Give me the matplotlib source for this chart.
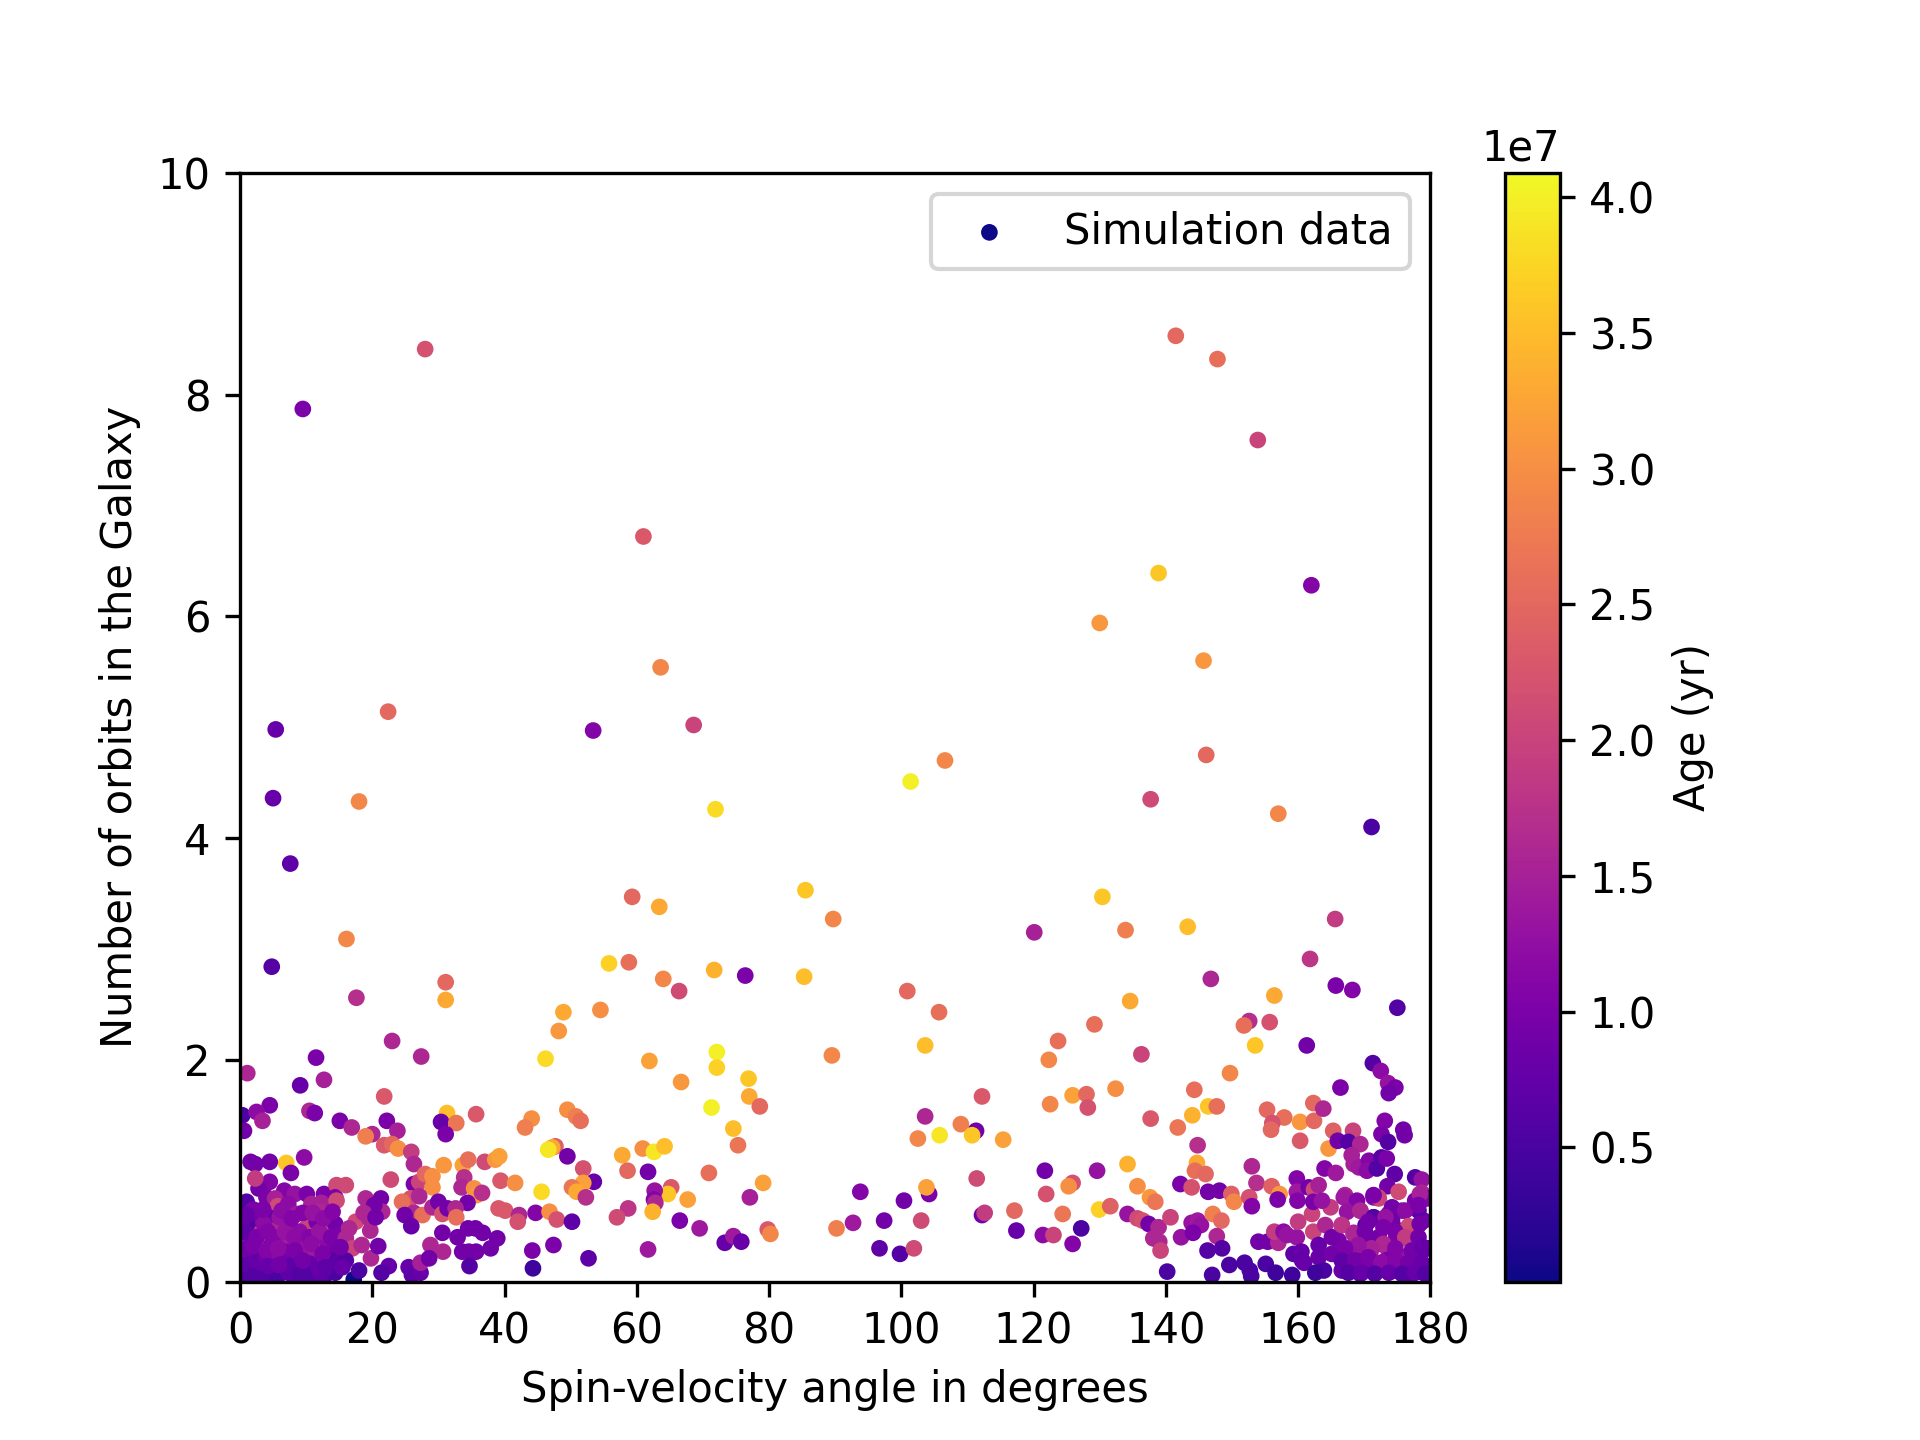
import numpy as np
import matplotlib
matplotlib.use("Agg")
import matplotlib.pyplot as plt

# (spin-velocity angle [deg], number of orbits, age [1e7 yr])
# sparse upper points
upper = [
    (9.5, 7.87, 1.0), (28.0, 8.41, 2.2), (5.4, 4.98, 0.8), (5.0, 4.36, 0.8),
    (7.6, 3.77, 0.7), (4.8, 2.84, 0.6), (22.4, 5.14, 2.5), (18.0, 4.33, 2.9),
    (16.1, 3.09, 2.9), (17.6, 2.56, 1.7), (31.1, 2.70, 2.5), (31.1, 2.54, 3.3),
    (61.0, 6.72, 2.3), (63.6, 5.54, 2.9), (53.4, 4.97, 1.1), (68.6, 5.02, 2.0),
    (71.9, 4.26, 3.8), (59.3, 3.47, 2.5), (63.4, 3.38, 3.3), (55.8, 2.87, 3.7),
    (58.8, 2.88, 2.6), (64.0, 2.73, 2.9), (66.4, 2.62, 2.1), (71.7, 2.81, 3.4),
    (76.4, 2.76, 1.0), (54.5, 2.45, 3.0), (48.9, 2.43, 3.3), (48.2, 2.26, 3.1),
    (85.5, 3.53, 3.6), (89.7, 3.27, 2.9), (85.3, 2.75, 3.5), (101.4, 4.51, 4.0),
    (106.6, 4.70, 2.9), (100.9, 2.62, 2.5), (105.7, 2.43, 2.6), (141.5, 8.53, 2.5),
    (147.8, 8.32, 2.6), (153.9, 7.59, 2.0), (162.0, 6.28, 1.1), (138.9, 6.39, 3.6),
    (130.0, 5.94, 3.1), (145.7, 5.60, 3.1), (146.1, 4.75, 2.5), (137.7, 4.35, 2.1),
    (157.0, 4.22, 2.9), (171.1, 4.10, 0.5), (120.1, 3.15, 1.5), (130.4, 3.47, 3.6),
    (133.9, 3.17, 2.8), (143.3, 3.20, 3.5), (165.6, 3.27, 1.9), (161.8, 2.91, 1.8),
    (165.7, 2.67, 1.0), (168.2, 2.63, 1.1), (175.0, 2.47, 0.6), (146.8, 2.73, 1.6),
    (156.4, 2.58, 3.3), (134.6, 2.53, 3.3), (129.2, 2.32, 2.6), (152.6, 2.35, 1.7),
    (151.8, 2.31, 2.6), (155.7, 2.34, 2.2),
]

# 0-45 degrees, below ~2.2 orbits
band_left = [
    (23.0, 2.17, 1.6), (11.5, 2.02, 1.0), (27.4, 2.03, 1.6), (1.1, 1.88, 1.6),
    (12.7, 1.82, 1.5), (9.1, 1.77, 0.8), (21.8, 1.67, 2.3), (0.35, 1.50, 0.5),
    (4.5, 1.59, 1.0), (2.5, 1.53, 1.2), (3.4, 1.45, 1.5), (10.5, 1.54, 1.6),
    (11.3, 1.52, 1.0), (31.3, 1.52, 3.5), (35.7, 1.51, 2.3), (30.4, 1.44, 0.8),
    (32.7, 1.43, 2.7), (31.1, 1.33, 1.0), (15.1, 1.45, 1.0), (16.9, 1.39, 1.6),
    (22.2, 1.45, 1.0), (23.8, 1.36, 1.5), (20.0, 1.33, 1.6), (19.0, 1.31, 2.8),
    (0.6, 1.36, 0.9), (21.8, 1.23, 2.3), (23.0, 1.24, 2.5), (23.9, 1.20, 3.0),
    (25.9, 1.17, 1.9), (26.3, 1.06, 1.6), (1.6, 1.08, 0.9), (2.3, 1.06, 0.9),
    (4.5, 1.08, 0.9), (7.0, 1.07, 3.6), (9.7, 1.12, 1.2), (7.7, 0.98, 1.0),
    (2.3, 0.93, 1.9), (16.0, 0.87, 2.1), (22.8, 0.92, 2.1), (26.3, 0.88, 1.0),
    (27.1, 0.90, 2.0), (28.0, 0.97, 2.5), (29.1, 0.95, 3.0), (29.1, 0.85, 3.0),
    (30.8, 1.05, 3.1), (33.7, 1.05, 3.2), (34.5, 1.10, 2.6), (37.0, 1.08, 2.1),
    (38.6, 1.10, 3.1), (39.2, 1.13, 3.2), (33.9, 0.94, 1.7), (33.5, 0.85, 1.6),
    (35.4, 0.84, 3.0), (35.8, 0.78, 3.1), (36.6, 0.80, 1.7), (39.4, 0.91, 2.3),
    (41.6, 0.89, 3.0), (34.4, 0.71, 0.9), (25.0, 0.70, 3.1), (25.8, 0.75, 2.2),
    (27.1, 0.77, 1.6), (24.5, 0.72, 2.6), (26.3, 0.62, 1.6), (27.6, 0.60, 2.6),
    (24.9, 0.60, 0.9), (25.9, 0.50, 0.8), (29.1, 0.67, 1.6), (30.0, 0.72, 0.9),
    (30.6, 0.61, 2.2), (31.4, 0.66, 0.9), (32.6, 0.66, 1.6), (32.7, 0.58, 2.6),
    (39.1, 0.66, 2.3), (40.1, 0.64, 2.3), (42.2, 0.60, 1.6), (42.0, 0.54, 2.2),
    (30.6, 0.44, 0.9), (32.9, 0.40, 0.9), (34.5, 0.48, 0.9), (35.6, 0.48, 0.9),
    (36.7, 0.44, 0.9), (38.9, 0.39, 0.9), (28.8, 0.33, 1.6), (30.7, 0.27, 1.6),
    (33.6, 0.27, 0.9), (34.6, 0.27, 0.9), (35.7, 0.27, 0.9), (37.9, 0.30, 0.9),
    (34.7, 0.14, 0.6), (19.0, 0.75, 1.6), (21.3, 0.75, 0.9), (21.5, 0.63, 1.6),
    (20.3, 0.69, 0.9), (17.5, 0.54, 2.1), (18.7, 0.62, 1.6), (19.5, 0.57, 1.6),
    (19.7, 0.46, 1.6), (16.5, 0.48, 1.6), (16.0, 0.39, 1.6), (17.0, 0.30, 2.0),
    (18.4, 0.33, 1.6), (19.8, 0.21, 1.6), (20.9, 0.32, 0.9), (22.5, 0.14, 0.8),
    (21.4, 0.08, 0.6), (18.0, 0.10, 0.5), (25.5, 0.13, 0.8),
    (26.0, 0.06, 0.7), (27.3, 0.08, 0.8), (27.3, 0.17, 1.5), (28.6, 0.21, 0.9),
    (20.5, 0.58, 0.9), (16.0, 0.19, 0.6), (15.2, 0.31, 0.9), (15.5, 0.13, 0.8),
]

# dense cluster near 0 degrees (first entry: youngest object in the sample)
cluster_left = [
    (17.2, 0.02, 0.02),
    (4.5, 0.90, 1.1), (6.7, 0.82, 1.1), (8.3, 0.79, 1.3), (10.1, 0.79, 1.0),
    (12.7, 0.79, 1.0), (14.6, 0.87, 2.1), (14.4, 0.76, 1.0), (1.0, 0.72, 0.6),
    (2.8, 0.84, 0.9), (4.0, 0.76, 1.0), (5.3, 0.75, 1.5), (5.7, 0.68, 2.1),
    (7.3, 0.70, 1.2), (8.6, 0.61, 1.4), (10.8, 0.70, 1.5), (12.3, 0.71, 1.5),
    (12.1, 0.63, 1.6), (14.6, 0.73, 2.1), (2.5, 0.61, 0.9), (4.3, 0.58, 0.8),
    (1.5, 0.48, 0.6), (3.3, 0.45, 1.9), (5.8, 0.48, 1.6), (7.3, 0.52, 1.0),
    (10.1, 0.49, 2.0), (11.6, 0.54, 0.9), (13.2, 0.49, 2.1), (14.4, 0.52, 0.9),
    (15.4, 0.43, 1.0), (0.3, 0.37, 1.3), (3.0, 0.30, 1.9), (4.8, 0.34, 1.0),
    (6.5, 0.37, 1.4), (7.6, 0.31, 1.5), (9.3, 0.34, 1.3), (11.7, 0.36, 2.1),
    (13.3, 0.31, 1.1), (14.6, 0.28, 0.9), (0.8, 0.20, 0.8), (2.3, 0.23, 0.7),
    (3.8, 0.19, 0.9), (5.3, 0.22, 1.2), (6.8, 0.27, 1.0), (8.8, 0.22, 1.1),
    (10.1, 0.28, 1.3), (11.3, 0.25, 1.4), (12.2, 0.17, 2.0), (13.9, 0.19, 0.6),
    (1.3, 0.10, 0.5), (3.0, 0.10, 0.8), (4.8, 0.07, 0.6), (6.5, 0.10, 0.9),
    (8.3, 0.05, 0.6), (9.8, 0.11, 0.9), (11.3, 0.07, 0.6), (13.1, 0.07, 0.5),
    (0.5, 0.04, 0.5), (2.0, 0.14, 0.8), (6.8, 0.16, 0.9), (14.4, 0.08, 0.5),
    (0.25, 0.54, 0.9), (0.0, 0.28, 1.0), (1.8, 0.38, 1.1), (3.6, 0.52, 1.2),
    (6.0, 0.58, 1.3), (9.0, 0.45, 1.2), (8.0, 0.15, 0.7), (10.6, 0.16, 0.8),
    (12.8, 0.40, 1.2), (2.0, 0.65, 1.0), (9.5, 0.62, 1.1), (5.0, 0.40, 1.1),
    (1.0, 0.60, 0.8), (3.5, 0.65, 1.0), (6.3, 0.64, 1.2), (11.0, 0.62, 1.3),
    (0.7, 0.45, 0.7), (2.5, 0.40, 1.0), (4.2, 0.45, 1.1), (6.8, 0.45, 1.3),
    (8.2, 0.40, 1.2), (10.5, 0.40, 1.1), (12.0, 0.45, 1.3), (13.8, 0.40, 1.0),
    (1.2, 0.30, 0.9), (2.0, 0.32, 1.0), (4.0, 0.28, 1.1), (5.8, 0.30, 1.2),
    (8.3, 0.28, 1.0), (10.8, 0.34, 1.2), (12.5, 0.25, 1.0), (1.8, 0.05, 0.6),
    (3.8, 0.04, 0.6), (5.7, 0.05, 0.5), (7.3, 0.08, 0.7), (9.0, 0.07, 0.6),
    (10.5, 0.05, 0.6), (12.2, 0.06, 0.7), (0.2, 0.15, 0.7), (4.3, 0.14, 0.8),
    (5.9, 0.15, 0.9), (9.5, 0.19, 0.9), (11.9, 0.11, 0.8), (13.0, 0.13, 0.7),
    (14.8, 0.17, 0.7), (7.8, 0.57, 1.1), (12.6, 0.57, 1.2), (14.0, 0.63, 1.1),
]

# 43-85 degrees
band_mid = [
    (46.2, 2.01, 3.8), (61.9, 1.99, 3.2), (72.1, 2.07, 4.0), (72.1, 1.93, 3.7),
    (66.7, 1.80, 3.1), (76.9, 1.83, 3.6), (77.0, 1.67, 3.3), (78.6, 1.58, 2.5),
    (71.3, 1.57, 4.0), (74.6, 1.38, 3.5), (75.3, 1.23, 2.7), (49.5, 1.55, 3.0),
    (50.8, 1.49, 2.8), (51.5, 1.45, 2.6), (44.1, 1.47, 3.0), (43.1, 1.39, 2.8),
    (47.7, 1.22, 2.4), (47.2, 1.21, 3.3), (46.6, 1.19, 3.9), (49.5, 1.13, 0.9),
    (51.9, 1.02, 2.2), (53.5, 0.90, 0.8), (51.9, 0.89, 3.2), (50.2, 0.85, 2.7),
    (50.9, 0.81, 3.3), (52.3, 0.76, 1.7), (45.6, 0.81, 3.8), (44.7, 0.62, 1.1),
    (46.8, 0.63, 3.0), (47.9, 0.56, 2.2), (50.2, 0.54, 0.7), (44.2, 0.28, 1.0),
    (47.4, 0.33, 1.0), (44.3, 0.12, 0.4), (52.7, 0.21, 0.7), (57.8, 1.14, 3.3),
    (60.9, 1.20, 3.0), (62.6, 1.17, 3.9), (64.2, 1.22, 3.5), (58.6, 1.00, 2.5),
    (61.7, 0.99, 0.9), (65.2, 0.85, 2.3), (64.7, 0.79, 3.6), (62.7, 0.82, 1.3),
    (62.6, 0.74, 1.1), (62.8, 0.71, 1.6), (62.4, 0.63, 3.4), (67.7, 0.74, 3.2),
    (58.7, 0.66, 1.8), (57.0, 0.58, 2.1), (70.9, 0.98, 2.6), (66.5, 0.55, 1.0),
    (69.5, 0.48, 1.4), (61.7, 0.29, 1.4), (73.3, 0.35, 0.8), (74.6, 0.41, 1.4),
    (75.8, 0.36, 0.8), (77.1, 0.76, 1.5), (79.1, 0.89, 3.2), (79.8, 0.47, 2.3),
    (80.2, 0.43, 2.9),
]

# 85-128 degrees
band_centre = [
    (89.5, 2.04, 2.9), (103.6, 2.13, 3.5), (123.7, 2.17, 2.6), (122.3, 2.00, 2.9),
    (112.2, 1.67, 2.3), (122.5, 1.60, 2.9), (125.9, 1.68, 3.2), (128.0, 1.69, 2.5),
    (128.2, 1.57, 2.2), (103.6, 1.49, 1.6), (109.0, 1.42, 2.8), (111.3, 1.36, 0.9),
    (110.7, 1.32, 3.6), (102.5, 1.29, 2.9), (105.8, 1.32, 3.9), (115.4, 1.28, 3.2),
    (111.4, 0.93, 2.1), (121.7, 1.00, 0.9), (125.9, 0.89, 2.2), (125.3, 0.86, 3.0),
    (121.9, 0.79, 2.2), (93.8, 0.81, 1.1), (100.4, 0.73, 0.9), (104.2, 0.79, 1.0),
    (103.8, 0.85, 3.2), (103.0, 0.55, 2.1), (90.2, 0.48, 2.8), (92.7, 0.53, 1.4),
    (97.4, 0.55, 0.9), (96.7, 0.30, 0.7), (99.8, 0.25, 0.6), (101.9, 0.30, 2.1),
    (112.2, 0.60, 0.9), (112.6, 0.62, 1.9), (117.1, 0.64, 2.5), (117.4, 0.46, 0.8),
    (124.4, 0.61, 2.7), (121.4, 0.42, 1.2), (123.0, 0.42, 2.0), (127.2, 0.48, 0.5),
    (125.9, 0.34, 1.1),
]

# 128-163 degrees
band_right = [
    (153.5, 2.13, 3.6), (161.3, 2.13, 0.9), (136.3, 2.05, 2.0), (149.7, 1.88, 2.9),
    (132.4, 1.74, 3.0), (144.3, 1.73, 2.6), (146.4, 1.58, 3.6), (147.7, 1.58, 2.6),
    (144.0, 1.50, 3.4), (137.7, 1.47, 2.3), (141.8, 1.39, 2.7), (155.3, 1.55, 2.5),
    (157.9, 1.48, 2.6), (156.1, 1.43, 2.2), (155.9, 1.37, 2.5), (160.3, 1.44, 3.1),
    (162.3, 1.61, 2.5), (162.4, 1.45, 2.5), (160.3, 1.27, 2.3), (144.8, 1.23, 1.7),
    (129.6, 1.00, 1.3), (134.2, 1.06, 3.4), (144.7, 1.07, 3.3), (144.4, 1.00, 2.6),
    (146.0, 0.97, 2.5), (153.0, 1.04, 1.6), (135.7, 0.86, 3.0), (137.6, 0.76, 3.1),
    (138.4, 0.72, 2.7), (142.2, 0.88, 1.0), (143.9, 0.85, 2.2), (146.4, 0.81, 0.9),
    (148.1, 0.82, 0.9), (149.9, 0.79, 2.4), (150.3, 0.72, 2.9), (152.6, 0.76, 2.2),
    (153.0, 0.68, 1.1), (153.7, 0.89, 1.7), (156.0, 0.86, 2.4), (157.2, 0.79, 3.1),
    (156.9, 0.74, 1.0), (159.8, 0.93, 1.1), (159.8, 0.81, 1.4), (159.9, 0.73, 1.1),
    (161.6, 0.85, 0.9), (162.4, 0.83, 2.1), (129.9, 0.65, 3.7), (131.6, 0.68, 2.4),
    (134.2, 0.61, 1.3), (135.7, 0.57, 2.1), (136.5, 0.55, 2.2), (137.4, 0.52, 0.9),
    (138.9, 0.49, 1.6), (138.1, 0.39, 1.6), (139.0, 0.36, 1.6), (139.2, 0.28, 2.0),
    (140.7, 0.58, 2.0), (142.3, 0.40, 1.3), (140.2, 0.09, 0.5), (143.9, 0.53, 1.3),
    (144.8, 0.55, 1.4), (145.3, 0.51, 1.3), (144.1, 0.44, 1.0), (147.1, 0.61, 2.8),
    (148.4, 0.55, 2.5), (147.7, 0.41, 1.6), (146.3, 0.28, 0.6), (148.5, 0.30, 0.6),
    (149.6, 0.15, 0.5), (151.9, 0.17, 0.5), (152.7, 0.10, 0.5), (152.9, 0.05, 0.5),
    (147.0, 0.06, 0.5), (155.1, 0.16, 0.5), (156.6, 0.08, 0.4), (159.1, 0.06, 0.4),
    (154.0, 0.36, 0.9), (155.4, 0.36, 0.9), (157.0, 0.35, 1.6), (156.4, 0.45, 1.9),
    (157.8, 0.45, 1.2), (158.3, 0.42, 1.3), (159.8, 0.40, 1.3), (160.0, 0.54, 1.9),
    (159.3, 0.25, 0.7), (160.5, 0.27, 0.8), (160.6, 0.19, 0.7), (162.3, 0.45, 2.0),
    (162.1, 0.61, 2.0), (162.3, 0.72, 1.0),
]

# dense cluster near 180 degrees
cluster_right = [
    (171.3, 1.97, 0.6), (172.5, 1.90, 1.2), (166.4, 1.75, 1.0), (173.6, 1.79, 1.3),
    (174.7, 1.75, 1.0), (173.7, 1.70, 0.9), (163.8, 1.56, 1.6), (165.3, 1.36, 2.4),
    (168.3, 1.36, 2.0), (164.6, 1.20, 3.1), (166.0, 1.27, 0.9), (167.6, 1.26, 0.6),
    (169.4, 1.24, 1.6), (173.1, 1.45, 1.1), (172.6, 1.33, 1.0), (173.6, 1.26, 0.6),
    (175.9, 1.37, 0.9), (176.1, 1.32, 0.9), (168.1, 1.14, 1.5), (168.4, 1.06, 1.5),
    (169.2, 1.03, 1.4), (170.7, 1.09, 1.1), (170.4, 1.00, 1.2), (171.9, 1.02, 0.6),
    (172.6, 1.12, 0.6), (173.4, 1.11, 1.0), (174.6, 0.97, 0.7), (177.7, 0.94, 0.6),
    (178.7, 0.92, 1.3), (164.0, 1.02, 1.1), (165.7, 0.98, 1.4), (163.1, 0.87, 1.5),
    (173.5, 0.86, 0.9), (175.2, 0.81, 2.1), (178.7, 0.80, 1.6), (167.1, 0.78, 1.6),
    (172.2, 0.75, 2.1), (171.4, 0.76, 1.1), (164.9, 0.67, 1.9), (163.6, 0.73, 1.3),
    (177.7, 0.73, 1.0), (164.1, 0.51, 1.6), (166.6, 0.51, 1.5), (168.4, 0.44, 1.5),
    (169.4, 0.64, 1.5), (170.2, 0.51, 0.7), (171.4, 0.58, 0.6), (173.1, 0.51, 1.4),
    (173.7, 0.61, 1.0), (175.7, 0.64, 1.2), (176.7, 0.49, 2.1), (176.3, 0.39, 1.9),
    (172.9, 0.33, 1.5), (163.1, 0.33, 0.8), (160.9, 0.17, 0.8), (163.1, 0.22, 0.8),
    (163.9, 0.10, 0.5), (162.6, 0.08, 0.4), (165.1, 0.25, 0.9), (166.1, 0.37, 1.0),
    (167.2, 0.25, 0.8), (166.6, 0.10, 0.8), (168.2, 0.31, 1.2), (168.9, 0.19, 0.9),
    (169.4, 0.07, 0.6), (170.2, 0.34, 0.9), (170.9, 0.25, 1.3), (171.4, 0.10, 0.9),
    (172.2, 0.40, 0.9), (173.2, 0.19, 1.2), (174.2, 0.28, 1.0), (174.7, 0.10, 0.9),
    (175.2, 0.46, 0.9), (175.7, 0.22, 1.3), (176.7, 0.07, 0.6), (177.7, 0.37, 0.7),
    (178.5, 0.25, 0.8), (179.0, 0.13, 0.7), (179.0, 0.55, 0.9), (178.2, 0.64, 0.7),
    (174.2, 0.55, 0.9), (165.1, 0.40, 0.9), (170.2, 0.20, 1.0), (172.4, 0.13, 0.9),
    (174.7, 0.37, 1.0), (179.6, 0.30, 0.8), (179.5, 0.75, 1.1), (177.0, 0.15, 0.7),
    (178.0, 0.50, 1.2),
    (166.9, 0.76, 1.4), (168.9, 0.73, 1.1), (172.1, 0.76, 2.0), (171.4, 0.78, 1.0),
    (178.4, 0.79, 1.5), (174.2, 0.67, 0.9), (176.2, 0.64, 1.2), (178.2, 0.69, 1.0),
    (167.4, 0.63, 1.3), (169.4, 0.64, 1.6), (171.4, 0.58, 0.6), (173.2, 0.58, 1.3),
    (170.6, 0.54, 0.9), (176.7, 0.50, 2.1), (178.4, 0.52, 0.9), (166.6, 0.51, 1.8),
    (168.4, 0.43, 1.6), (170.1, 0.45, 0.9), (172.9, 0.49, 1.0), (174.7, 0.45, 1.0),
    (176.2, 0.40, 1.9), (178.2, 0.40, 0.9), (172.9, 0.34, 1.6), (171.1, 0.30, 1.5),
    (169.1, 0.33, 1.3), (167.1, 0.30, 1.0), (174.7, 0.30, 1.1), (177.2, 0.28, 0.9),
    (178.9, 0.31, 0.8), (166.6, 0.19, 0.7), (168.6, 0.19, 0.9), (170.6, 0.22, 1.0),
    (172.6, 0.17, 1.2), (174.7, 0.19, 1.1), (176.7, 0.17, 0.9), (178.7, 0.17, 0.8),
    (167.6, 0.08, 0.6), (169.6, 0.08, 0.8), (171.6, 0.07, 0.6), (173.7, 0.08, 0.8),
    (175.7, 0.07, 0.6), (177.7, 0.08, 0.8), (179.2, 0.07, 0.6),
]

points = np.array(cluster_left + upper + band_left + band_mid
                  + band_centre + band_right + cluster_right)
angle = points[:, 0]
orbits = points[:, 1]
age = points[:, 2] * 1e7  # years

fig = plt.figure(figsize=(6.4, 4.8), dpi=300)
sc = plt.scatter(angle, orbits, c=age, cmap="plasma", s=9,
                 vmin=0.005e7, vmax=4.09e7, label="Simulation data")
cbar = plt.colorbar(sc)
cbar.set_label("Age (yr)")
plt.xlim(0, 180)
plt.ylim(0, 10)
plt.xlabel("Spin-velocity angle in degrees")
plt.ylabel("Number of orbits in the Galaxy")
plt.legend(loc="upper right")
plt.savefig("out.png", dpi=300)
